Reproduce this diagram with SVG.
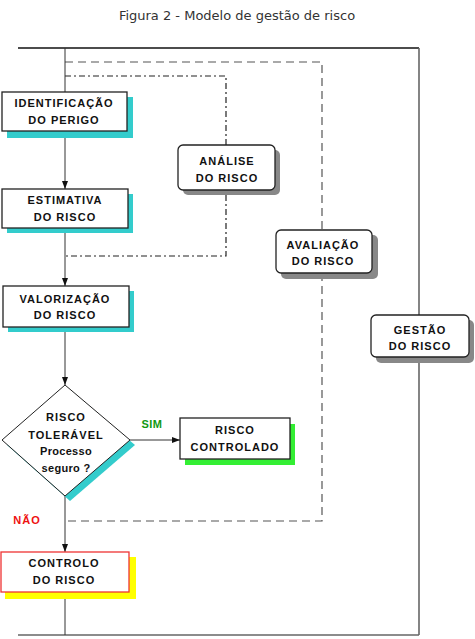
<svg xmlns="http://www.w3.org/2000/svg" width="475" height="639" viewBox="0 0 475 639">
<style>
.t{font-family:"Liberation Sans",Arial,sans-serif;font-weight:bold;font-size:11px;letter-spacing:1px;text-anchor:middle;fill:#111}
.box{fill:#fff;stroke:#222;stroke-width:1.3}
.rbox{fill:#fff;stroke:#222;stroke-width:1.3}
.ln{stroke:#333;stroke-width:1;fill:none}
</style>
<defs>
<marker id="ar" viewBox="0 0 8 6" refX="8" refY="3" markerWidth="8" markerHeight="6" markerUnits="userSpaceOnUse" orient="auto">
<path d="M0,0 L8,3 L0,6 Z" fill="#111"/>
</marker>
</defs>
<rect width="475" height="639" fill="#fff"/>
<text x="237" y="20" font-family="DejaVu Sans, sans-serif" font-size="13" fill="#333" text-anchor="middle">Figura 2 - Modelo de gestão de risco</text>

<g id="connectors">
<line x1="18" y1="48" x2="419" y2="48" stroke="#111" stroke-width="1.6"/>
<line x1="419" y1="48" x2="419" y2="635" stroke="#666" stroke-width="1.6"/>
<line x1="18" y1="635" x2="419" y2="635" stroke="#666" stroke-width="1.6"/>
<path d="M65,62 H322 V521 H65" fill="none" stroke="#555" stroke-width="1.2" stroke-dasharray="8,5"/>
<path d="M65,76 H226 V256 H65" fill="none" stroke="#222" stroke-width="1.2" stroke-dasharray="6,3,2,3"/>
<line class="ln" x1="65" y1="48" x2="65" y2="92"/>
<line class="ln" x1="65" y1="132" x2="65" y2="189" marker-end="url(#ar)"/>
<line class="ln" x1="65" y1="228" x2="65" y2="286" marker-end="url(#ar)"/>
<line class="ln" x1="65" y1="327" x2="65" y2="385" marker-end="url(#ar)"/>
<line class="ln" x1="65" y1="496" x2="65" y2="552" marker-end="url(#ar)"/>
<line class="ln" x1="65" y1="592" x2="65" y2="635"/>
<line class="ln" x1="130" y1="440" x2="180" y2="440" marker-end="url(#ar)"/>
</g>

<g id="identificacao">
<rect x="7" y="97" width="126" height="41" fill="#33cccc"/>
<rect class="box" x="2" y="92" width="125" height="39"/>
<text class="t" x="64" y="107">IDENTIFICAÇÃO</text>
<text class="t" x="64" y="124">DO PERIGO</text>
</g>

<g id="estimativa">
<rect x="7" y="194" width="126" height="39" fill="#33cccc"/>
<rect class="box" x="2" y="189" width="126" height="39"/>
<text class="t" x="65" y="204">ESTIMATIVA</text>
<text class="t" x="65" y="221">DO RISCO</text>
</g>

<g id="valorizacao">
<rect x="8" y="291" width="126" height="41" fill="#33cccc"/>
<rect class="box" x="3" y="286" width="126" height="41"/>
<text class="t" x="65" y="303">VALORIZAÇÃO</text>
<text class="t" x="65" y="319">DO RISCO</text>
</g>

<g id="decisao">
<polygon points="70,390 135,445 70,501 7,445" fill="#33cccc"/>
<polygon points="65,385 130,440 65,496 2,440" fill="#fff" stroke="#222" stroke-width="1"/>
<text class="t" x="66" y="421">RISCO</text>
<text class="t" x="66" y="439">TOLERÁVEL</text>
<text class="t" x="66" y="455" style="letter-spacing:0.3px">Processo</text>
<text class="t" x="66" y="472" style="letter-spacing:0.3px">seguro ?</text>
</g>

<text x="152" y="428" font-family="Liberation Sans, Arial, sans-serif" font-weight="bold" font-size="11" fill="#119911" text-anchor="middle" letter-spacing="0.5">SIM</text>
<text x="27" y="524" font-family="Liberation Sans, Arial, sans-serif" font-weight="bold" font-size="11" fill="#ee1111" text-anchor="middle" letter-spacing="1">NÃO</text>

<g id="risco_controlado">
<rect x="185" y="424" width="110" height="41" fill="#33ee33"/>
<rect class="box" x="180" y="418" width="110" height="41"/>
<text class="t" x="235" y="434">RISCO</text>
<text class="t" x="235" y="451">CONTROLADO</text>
</g>

<g id="controlo">
<rect x="5" y="557" width="131" height="42" fill="#ffff00"/>
<rect x="1" y="552" width="128" height="40" fill="#fff" stroke="#ee3333" stroke-width="1.3"/>
<text class="t" x="64" y="567">CONTROLO</text>
<text class="t" x="64" y="584">DO RISCO</text>
</g>

<g id="analise">
<rect x="183" y="150" width="97" height="45" rx="5" fill="#888"/>
<rect class="rbox" x="178" y="145" width="97" height="45" rx="5"/>
<text class="t" x="227" y="165">ANÁLISE</text>
<text class="t" x="227" y="182">DO RISCO</text>
</g>

<g id="avaliacao">
<rect x="281" y="235" width="97" height="44" rx="5" fill="#888"/>
<rect class="rbox" x="276" y="230" width="96" height="43" rx="5"/>
<text class="t" x="323" y="249">AVALIAÇÃO</text>
<text class="t" x="323" y="265">DO RISCO</text>
</g>

<g id="gestao">
<rect x="376" y="320" width="98" height="43" rx="5" fill="#888"/>
<rect class="rbox" x="371" y="315" width="98" height="42" rx="5"/>
<text class="t" x="420" y="334">GESTÃO</text>
<text class="t" x="420" y="350">DO RISCO</text>
</g>
</svg>
